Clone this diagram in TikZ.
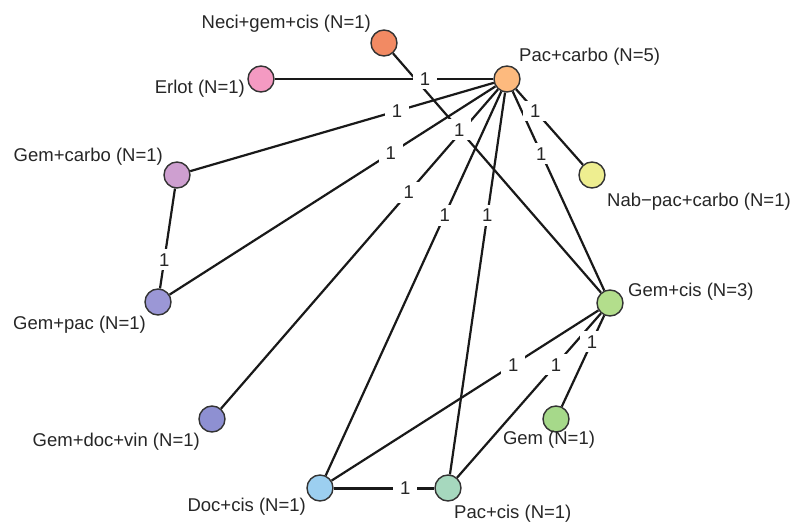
\documentclass[tikz,border=0pt]{standalone}
\usepackage{fontspec}
\setmainfont{Liberation Sans}
\usepackage{xcolor}
\usepackage{tikz}
\definecolor{salmone}{HTML}{F28A63}
\definecolor{pesca}{HTML}{FDBA7E}
\definecolor{rosa}{HTML}{F49AC2}
\definecolor{lilla}{HTML}{CE9FD0}
\definecolor{giallo}{HTML}{EEEE90}
\definecolor{verde}{HTML}{B3DE8C}
\definecolor{pervinca}{HTML}{9B97D6}
\definecolor{indaco}{HTML}{8E90D2}
\definecolor{verdino}{HTML}{A6D98A}
\definecolor{celeste}{HTML}{9CCFF0}
\definecolor{acqua}{HTML}{A6D8BE}
\tikzset{
    trt/.style={circle, draw=black!80, line width=1.4pt, minimum size=26pt, inner sep=0pt},
    nome/.style={text=black!85, inner sep=1pt},
    peso/.style={fill=white, inner xsep=7pt, inner ysep=4pt, text=black!85},
    arco/.style={line width=2.2pt, black!90}
}

\begin{document}
\begin{tikzpicture}[x=1pt, y=-1pt, font=\fontsize{18.5}{22}\selectfont]
        \useasboundingbox (0,0) rectangle (796,522);
        % Trattamenti
        \foreach \id/\xx/\yy/\col in {
                neci/384/43/salmone,
                pac/507/79/pesca,
                erlot/261/79/rosa,
                gcarbo/177/175/lilla,
                nab/592/175/giallo,
                gcis/610/303/verde,
                gpac/158/302/pervinca,
                gdv/212/419/indaco,
                gem/556/419/verdino,
                dcis/320/488/celeste,
                pcis/448/488/acqua}
            {
                \node[trt, fill=\col] (\id) at (\xx,\yy) {};
            }
        % Nomi
        \foreach \id/\xx/\yy/\anc/\txt in {
                neci/372/24/east/{Neci+gem+cis (N=1)},
                pac/518/57/west/{Pac+carbo (N=5)},
                erlot/246/89/east/{Erlot (N=1)},
                gcarbo/164/157/east/{Gem+carbo (N=1)},
                nab/606/202/west/{Nab−pac+carbo (N=1)},
                gcis/627/292/west/{Gem+cis (N=3)},
                gpac/147/325/east/{Gem+pac (N=1)},
                gdv/201/442/east/{Gem+doc+vin (N=1)},
                gem/549/440/center/{Gem (N=1)},
                dcis/307/507/east/{Doc+cis (N=1)},
                pcis/453/514/west/{Pac+cis (N=1)}}
            {
                \node[nome, anchor=\anc] (n-\id) at (\xx,\yy) {\txt};
            }
        % Confronti diretti
        \foreach \a/\b/\w in {
                neci/gcis/2.2pt, pac/erlot/2.2pt, pac/gcarbo/2.2pt, pac/gpac/2.2pt,
                pac/gdv/2.2pt, pac/dcis/2.2pt, pac/pcis/2.2pt, pac/gcis/2.2pt,
                pac/nab/2.2pt, gpac/gcarbo/2.2pt, gcis/dcis/2.2pt, gcis/pcis/2.2pt,
                gcis/gem/2.2pt, pcis/dcis/3pt}
            {
                \draw[arco, line width=\w] (\a) -- (\b);
            }
        % Numero di studi
        \foreach \a/\b in {
                neci/gcis, pac/erlot, pac/gcarbo, pac/gpac, pac/gdv, pac/dcis,
                pac/pcis, pac/gcis, pac/nab, gpac/gcarbo, gcis/dcis, gcis/pcis,
                gcis/gem, pcis/dcis}
            {
                \path (\a.center) -- (\b.center) node[peso, pos=1/3] (w-\a-\b) {1};
            }
    \end{tikzpicture}
\end{document}
